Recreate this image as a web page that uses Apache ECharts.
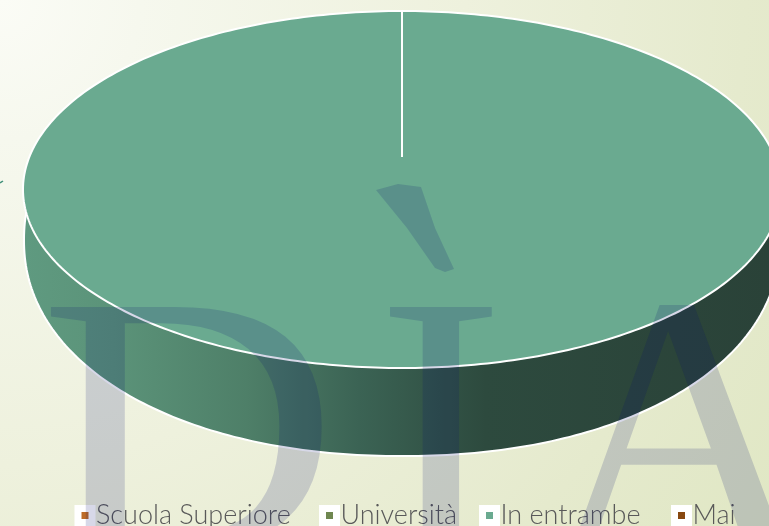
<!DOCTYPE html>
<html><head><meta charset="utf-8">
<style>html,body{margin:0;padding:0;width:769px;height:526px;overflow:hidden}#c{width:769px;height:526px}</style>
<script src="https://cdn.jsdelivr.net/npm/echarts@6/dist/echarts.min.js"></script>
</head><body><div id="c"></div>
<script>
const categories = ['Scuola Superiore', 'Università', 'In entrambe', 'Mai'];
const seriesValues = [0, 0, 100, 0];
const sliceColors = ['#bd6c28', '#6f8750', '#6aaa90', '#87480f'];
const watermarkLetters = ['D', 'I', 'A'];
const legendLefts = [74.5, 319, 479, 671];

const top3d = {cx: 402, cy: 189.5, rx: 379, ry: 178.5, n: 2};
const bottom3d = {cx: 402, cy: 240, rx: 378, ry: 216, n: 2.12};
const seamDrop = 146;
const total = seriesValues.reduce((a, b) => a + b, 0);

function ringPoints(e, a0, a1, closeToCenter) {
  const pts = [];
  const n = Math.max(2, Math.round((a1 - a0) * 180 / Math.PI));
  const p = 2 / e.n;
  for (let i = 0; i <= n; i++) {
    const a = a0 + (a1 - a0) * i / n;
    const s = Math.sin(a), c = Math.cos(a);
    pts.push([e.cx + e.rx * Math.sign(s) * Math.pow(Math.abs(s), p),
              e.cy - e.ry * Math.sign(c) * Math.pow(Math.abs(c), p)]);
  }
  if (closeToCenter) pts.push([e.cx, e.cy]);
  return pts;
}
function makeRender(idx) {
  return function (params, api) {
    const v = api.value(0);
    if (!v) return null;
    const before = seriesValues.slice(0, idx).reduce((a, b) => a + b, 0);
    const a0 = before / total * 2 * Math.PI;
    const a1 = (before + v) / total * 2 * Math.PI;
    const full = v === total;
    const children = [
      {type: 'polygon', shape: {points: ringPoints(bottom3d, a0, a1, !full)},
       style: {stroke: '#fff', lineWidth: 2, fill: {
         type: 'linear', x: 24, y: 0, x2: 769, y2: 0, global: true,
         colorStops: [
           {offset: 0, color: '#5f9a80'}, {offset: 0.12, color: '#5b9379'},
           {offset: 0.3, color: '#4e7f68'}, {offset: 0.45, color: '#3b6354'},
           {offset: 0.62, color: '#2d4a3e'}, {offset: 1, color: '#2a4238'}]}}},
      {type: 'polygon', shape: {points: ringPoints(top3d, a0, a1, !full)},
       style: {fill: sliceColors[idx], stroke: '#fff', lineWidth: 2}}
    ];
    if (full) {
      children.push({type: 'line', shape: {x1: top3d.cx, y1: top3d.cy - top3d.ry, x2: top3d.cx, y2: top3d.cy - top3d.ry + seamDrop},
        style: {stroke: '#fff', lineWidth: 2}});
    }
    return {type: 'group', children};
  };
}

const wmFill = 'rgba(8,10,110,0.16)';
const wmFont = '370px "Liberation Serif"';
const wmX = [39, 376, 546];
const wmScaleX = [1.12, 1.05, 1];
const chart = echarts.init(document.getElementById('c'), null, {renderer: 'canvas'});
chart.setOption({
  animation: false,
  backgroundColor: {type: 'radial', x: 0, y: 0, r: 930, global: true, colorStops: [
    {offset: 0, color: '#fbfcf6'}, {offset: 0.15, color: '#f6f8ee'}, {offset: 0.5, color: '#eef1dd'},
    {offset: 0.8, color: '#e5eacd'}, {offset: 1, color: '#e0e7c4'}]},
  legend: categories.map((name, i) => ({
    data: [name], left: legendLefts[i], top: 502, itemWidth: 14, itemHeight: 14,
    icon: 'rect', padding: 0, selectedMode: false,
    itemStyle: {borderColor: '#fff', borderWidth: 7},
    textStyle: {color: '#595959', fontFamily: 'Lato', fontWeight: 300, fontSize: 27, padding: [0, 0, 0, -1]}
  })),
  series: categories.map((name, i) => ({
    type: 'custom', name, coordinateSystem: 'none', silent: true,
    itemStyle: {color: sliceColors[i]},
    data: [[seriesValues[i]]], renderItem: makeRender(i)
  })),
  graphic: {elements: [
    ...watermarkLetters.map((t, i) => ({type: 'text', z: 100, silent: true, x: wmX[i], y: 637, scaleX: wmScaleX[i],
      style: {text: t, font: wmFont, fill: wmFill, textVerticalAlign: 'bottom'}})),
    {type: 'polygon', z: 100, silent: true, shape: {points: [[376,190],[398,184],[421,187],[435,228],[454,269],[445,272],[435,268],[407,228]]},
      style: {fill: wmFill}},
    {type: 'line', z: 100, silent: true, shape: {x1: 0, y1: 183, x2: 3, y2: 181}, style: {stroke: '#3f8f78', lineWidth: 1.5}}
  ]}
});
</script></body></html>
